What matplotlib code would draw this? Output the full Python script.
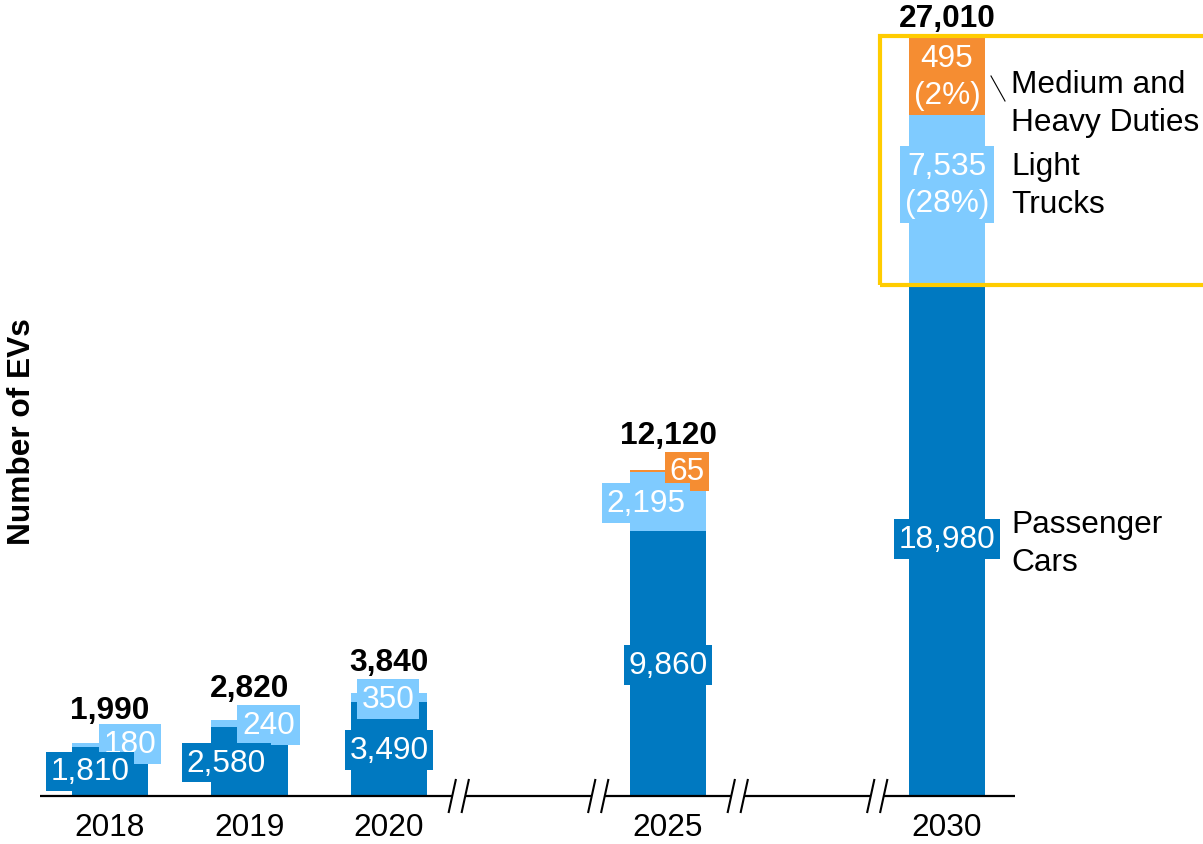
import matplotlib.pyplot as plt
from matplotlib.patches import Rectangle

plt.rcParams['font.family'] = ['Liberation Sans', 'DejaVu Sans']

# data
years = ['2018', '2019', '2020', '2025', '2030']
slots = [0, 1, 2, 4, 6]          # gaps for the broken axis
passenger = [1810, 2580, 3490, 9860, 18980]
light_trucks = [180, 240, 350, 2195, 7535]
heavy = [0, 0, 0, 65, 495]
totals = [1990, 2820, 3840, 12120, 27010]

dark = '#0079C1'
light = '#7FCBFF'
orange = '#F58D32'
yellow = '#FFCC00'
FS = 22.8
LS = 1.32

# pixel layout helpers (figure is 1203x845 px, axes fill it)
PX_X0, PX_STEP = 110, 139.5
PX_Y0, PX_PER_UNIT = 797, 0.02687


def px2x(px):
    return (px - PX_X0) / PX_STEP


def px2y(py):
    return (PX_Y0 - py) / PX_PER_UNIT


fig = plt.figure(figsize=(12.03, 8.45), dpi=100)
ax = fig.add_axes([0, 0, 1, 1])
ax.set_xlim(px2x(0), px2x(1203))
ax.set_ylim(px2y(845), px2y(0))
ax.axis('off')

w = 0.55
top_light = [p + l for p, l in zip(passenger, light_trucks)]
ax.bar(slots, passenger, width=w, color=dark, zorder=2)
ax.bar(slots, light_trucks, width=w, bottom=passenger, color=light, zorder=2)
ax.bar(slots, heavy, width=w, bottom=top_light, color=orange, zorder=2)

# label offsets in pixels (dx, dy down) from the top of each segment
pass_off = [(-20, 24), (-23, 36), (0, 48), (0, 134), (0, 253)]
light_off = [(20, 1.5), (19, 5), (-1, 6), (-22, 31), (0, 101)]
heavy_off = [None, None, None, (19, 1), (0, 6)]
total_off = [-33, -32, -31, -35, -52]


def label(x, y, txt, off, fc, z):
    ax.annotate(txt, (x, y), xytext=(off[0] * 0.72, -off[1] * 0.72),
                textcoords='offset points', ha='center', va='center',
                color='white', fontsize=FS, linespacing=LS, zorder=z,
                bbox=dict(boxstyle='square,pad=0.15', fc=fc, ec='none'))


for i, x in enumerate(slots):
    total = top_light[i] + heavy[i]
    if heavy_off[i] is not None:
        txt = f'{heavy[i]:,}'
        if i == 4:
            txt += f'\n({round(100 * heavy[i] / totals[i])}%)'
        label(x, total, txt, heavy_off[i], orange, 3)
    txt = f'{light_trucks[i]:,}'
    if i == 4:
        txt += f'\n({round(100 * light_trucks[i] / totals[i])}%)'
    label(x, top_light[i], txt, light_off[i], light, 4)
    label(x, passenger[i], f'{passenger[i]:,}', pass_off[i], dark, 5)
    ax.annotate(f'{totals[i]:,}', (x, total), xytext=(0, -total_off[i] * 0.72),
                textcoords='offset points', ha='center', va='center',
                fontsize=FS, fontweight='bold', color='black', zorder=6)
    ax.text(x, px2y(828), years[i], ha='center', va='center', fontsize=FS)

# broken baseline
breaks = [2.5, 3.5, 4.5, 5.5]
gap = 6.5 / PX_STEP
edges = [px2x(40)]
for b in breaks:
    edges += [b - gap, b + gap]
edges.append(px2x(1015))
for a, b in zip(edges[::2], edges[1::2]):
    ax.plot([a, b], [0, 0], color='black', lw=1.6, zorder=3, solid_capstyle='butt')
for b in breaks:
    for c in (b - gap, b + gap):
        ax.plot([c - 3.5 / PX_STEP, c + 3.5 / PX_STEP], [px2y(813), px2y(781)],
                color='black', lw=1.5, zorder=3)

# side legend
ax.text(px2x(1011), px2y(104), 'Medium and\nHeavy Duties', fontsize=FS,
        va='center', ha='left', linespacing=LS)
ax.text(px2x(1011), px2y(186), 'Light\nTrucks', fontsize=FS,
        va='center', ha='left', linespacing=LS)
ax.text(px2x(1011), px2y(544), 'Passenger\nCars', fontsize=FS,
        va='center', ha='left', linespacing=LS)
ax.plot([px2x(991), px2x(1005)], [px2y(77), px2y(102)], color='black', lw=0.8)

ax.add_patch(Rectangle((px2x(880), px2y(286)), px2x(1215) - px2x(880),
                       px2y(37) - px2y(286), fill=False, ec=yellow, lw=3,
                       zorder=7, clip_on=False))

ax.text(px2x(22), px2y(432), 'Number of EVs', rotation=90, fontsize=FS,
        fontweight='bold', ha='center', va='center')

fig.savefig('out.png', dpi=100)
